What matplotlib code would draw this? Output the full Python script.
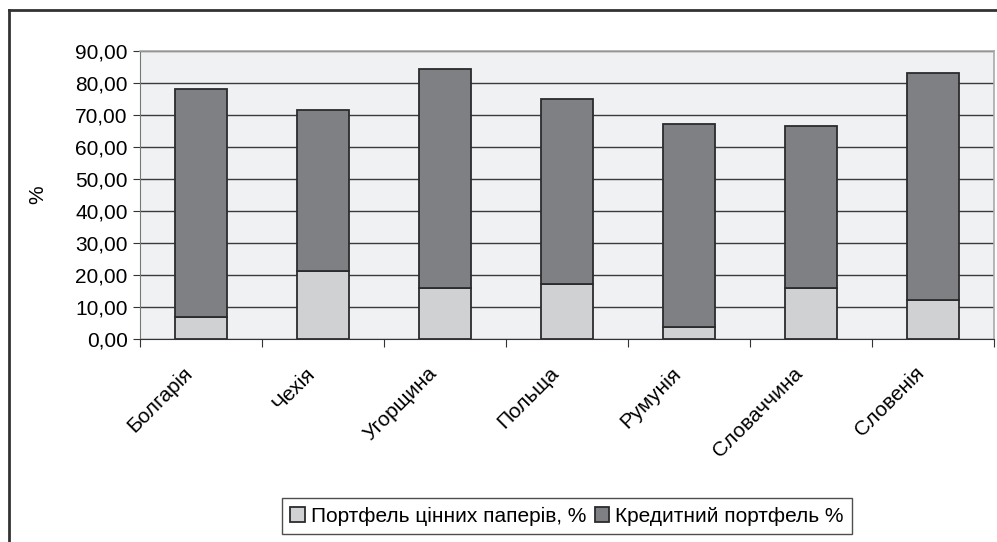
import matplotlib.pyplot as plt
from matplotlib.lines import Line2D
from matplotlib.ticker import FuncFormatter
from matplotlib.transforms import ScaledTranslation

countries = ['Болгарія', 'Чехія', 'Угорщина', 'Польща', 'Румунія', 'Словаччина', 'Словенія']
securities = [7.0, 21.1, 15.9, 17.2, 3.9, 15.9, 12.2]
credit = [71.0, 50.6, 68.6, 57.7, 63.4, 50.6, 71.0]

LIGHT = '#d0d1d3'
DARK = '#7f8083'
EDGE = '#2b2b2d'

plt.rcParams['font.family'] = ['Liberation Sans', 'DejaVu Sans']

fig = plt.figure(figsize=(9.97, 5.42), dpi=100)
ax = fig.add_axes([140 / 997, 1 - 339 / 542, 854 / 997, 288 / 542])
ax.set_facecolor('#f0f1f3')

x = list(range(len(countries)))
ax.bar(x, securities, width=0.42, color=LIGHT, edgecolor=EDGE, linewidth=1.3,
       label='Портфель цінних паперів, %', zorder=3)
ax.bar(x, credit, width=0.42, bottom=securities, color=DARK, edgecolor=EDGE,
       linewidth=1.3, label='Кредитний портфель %', zorder=3)

ax.set_xlim(-0.5, len(countries) - 0.5)
ax.set_ylim(0, 90)
ax.set_yticks(range(0, 91, 10))
ax.yaxis.set_major_formatter(FuncFormatter(lambda v, p: f'{v:.2f}'.replace('.', ',')))
ax.grid(axis='y', color='#3a3a3a', linewidth=1, zorder=1)
ax.set_axisbelow(True)

ax.set_xticks([i - 0.5 for i in range(len(countries) + 1)])
ax.set_xticklabels([])
ax.set_xticks(x, minor=True)
ax.set_xticklabels(countries, minor=True, rotation=45, ha='right',
                   rotation_mode='anchor', fontsize=15)
ax.tick_params(axis='x', which='minor', length=0, pad=12)
ax.tick_params(axis='x', which='major', length=6, color='#333333', direction='out')
ax.tick_params(axis='y', labelsize=15, length=5, color='#333333', pad=4)

shift = ScaledTranslation(-18 / 100, -8 / 100, fig.dpi_scale_trans)
for lab in ax.get_xticklabels(minor=True):
    lab.set_transform(lab.get_transform() + shift)

for side in ['top', 'right']:
    ax.spines[side].set_color('#a8a8a8')
    ax.spines[side].set_linewidth(1.2)
ax.spines['left'].set_color('#777777')
ax.spines['bottom'].set_color('#333333')

ax.set_ylabel('%', fontsize=15)
ax.yaxis.set_label_coords((47 - 140) / 854, 0.5)

leg = fig.legend(loc='center', bbox_to_anchor=(567 / 997, 1 - 516 / 542), ncol=2,
                 fontsize=15, frameon=True, fancybox=False, edgecolor='#222222',
                 handlelength=0.7, handleheight=0.7, handletextpad=0.3,
                 columnspacing=0.4, borderpad=0.4)
leg.get_frame().set_linewidth(1.0)

# outer chart frame (left and top edges visible)
fig.add_artist(Line2D([9 / 997, 9 / 997], [0, 1 - 10 / 542], color='#333333', linewidth=2))
fig.add_artist(Line2D([9 / 997, 1], [1 - 10 / 542, 1 - 10 / 542], color='#333333', linewidth=2))

fig.savefig('out.png', dpi=100)
